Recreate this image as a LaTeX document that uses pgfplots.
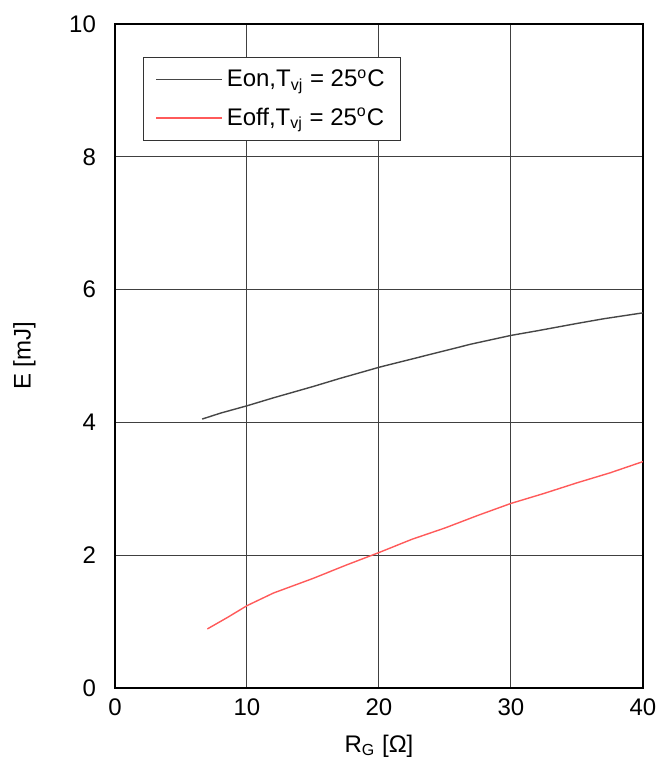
\documentclass[border=0pt]{standalone}
\usepackage{pgfplots}
\pgfplotsset{compat=1.18}
\usepackage{fontspec}
\setmainfont{Liberation Sans}
\definecolor{eon}{RGB}{70,70,70}
\definecolor{eoff}{RGB}{255,90,90}
\begin{document}
\begin{tikzpicture}
\useasboundingbox (-57.5pt,-38.5pt) rectangle (271.5pt,344pt);
\begin{axis}[
  at={(0,0)}, anchor=south west,
  scale only axis, width=264pt, height=332pt,
  xmin=0, xmax=40, ymin=0, ymax=10,
  xtick={0,10,20,30,40}, ytick={0,2,4,6,8,10},
  grid=major, major grid style={black!75, line width=0.5pt},
  axis line style={black, line width=0.6pt},
  tick style={draw=none},
  font=\fontsize{12}{14}\selectfont,
  /pgf/number format/assume math mode=true,
  xticklabel style={yshift=-2pt},
  yticklabel style={xshift=-6pt},
  xlabel={R\textsubscript{G} [Ω]},
  ylabel={E [mJ]},
  xlabel style={yshift=-2.5pt},
  ylabel style={yshift=10pt},
  legend style={at={(0.053,0.950)}, anchor=north west, draw=black!80,
    font=\fontsize{12}{14}\selectfont, row sep=5pt, inner xsep=6pt, inner ysep=4pt},
  legend cell align=left,
  legend image code/.code={\draw[#1] (0cm,0cm) -- (1.16cm,0cm);},
]
\addplot[eon, line width=0.7pt] coordinates {
(6.6,4.05) (8,4.14) (10,4.25) (12,4.37) (15,4.54) (17,4.66) (20,4.83) (22,4.93) (25,5.08) (27,5.18) (30,5.31) (32,5.38) (35,5.49) (37,5.56) (40,5.65)};
\addlegendentry{Eon,T\textsubscript{vj} = 25\textsuperscript{o}C}
\addplot[eoff, line width=0.7pt] coordinates {
(7.0,0.89) (8.5,1.06) (10,1.24) (12,1.43) (15,1.65) (17.5,1.85) (20,2.04) (22.5,2.24) (25,2.41) (27.5,2.60) (30,2.78) (32.5,2.93) (35,3.09) (37.5,3.24) (40,3.41)};
\addlegendentry{Eoff,T\textsubscript{vj} = 25\textsuperscript{o}C}
\end{axis}
\end{tikzpicture}
\end{document}
